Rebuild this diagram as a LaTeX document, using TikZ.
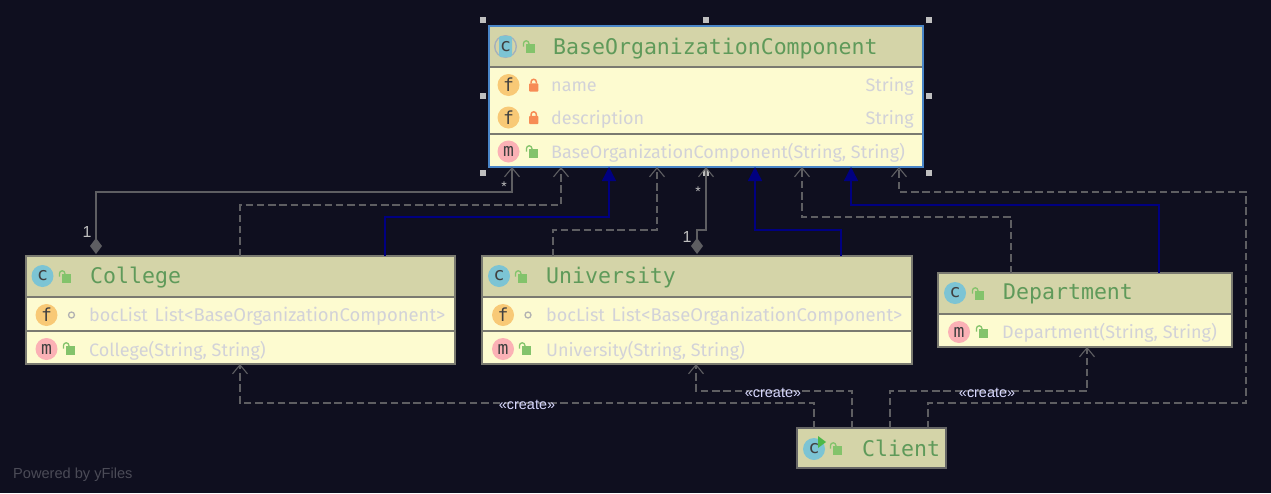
\documentclass[tikz,border=0pt]{standalone}
\usepackage{fontspec}
\setmainfont{Fira Sans}
\newfontfamily\titlefont{DejaVu Sans Mono}
\newfontfamily\labelfont{Liberation Sans}
\usetikzlibrary{arrows.meta,calc}
\definecolor{bg}{HTML}{0F0F1F}
\definecolor{headfill}{HTML}{D4D4A8}
\definecolor{bodyfill}{HTML}{FDFBD0}
\definecolor{boxline}{HTML}{7A7A70}
\definecolor{titlegreen}{HTML}{5F9A5A}
\definecolor{membertext}{HTML}{D2D2D8}
\definecolor{selblue}{HTML}{4A86C8}
\definecolor{conn}{HTML}{5E5E62}
\definecolor{inherit}{HTML}{000080}
\definecolor{iconc}{HTML}{7CC4D4}
\definecolor{iconf}{HTML}{F8C976}
\definecolor{iconm}{HTML}{FBB1B5}
\definecolor{lockgreen}{HTML}{83C36B}
\definecolor{lockorange}{HTML}{F78C55}
\definecolor{runGreen}{HTML}{4DB848}
\definecolor{ringgrey}{HTML}{A4B0BC}
\tikzset{
  boxbody/.style={draw=boxline,line width=1.4pt,fill=bodyfill,inner sep=0pt,outer sep=0pt},
  boxhead/.style={draw=boxline,line width=1.4pt,fill=headfill,inner sep=0pt,outer sep=0pt},
  sepline/.style={draw=boxline,line width=1.2pt},
  headline/.style={draw=boxline,line width=2pt},
  titletext/.style={font=\titlefont\fontsize{21.55}{24}\selectfont,text=titlegreen,anchor=west,inner sep=0pt,yshift=-1.8pt},
  membertxt/.style={font=\fontsize{18}{21}\selectfont,text=membertext,anchor=west,inner sep=0pt,yshift=-1pt},
  icontext/.style={circle,minimum size=22pt,inner sep=0pt,text=black!75,font=\titlefont\fontsize{18}{18}\selectfont},
  depline/.style={draw=conn,line width=1.3pt,dash pattern=on 7.5pt off 3.8pt,-{Straight Barb[length=9pt,width=15pt,line width=1.1pt]}},
  compline/.style={draw=conn,line width=1.3pt,{Diamond[length=16pt,width=12pt,fill=conn]}-{Straight Barb[length=9pt,width=15pt,line width=1.1pt]}},
  inhline/.style={draw=inherit,line width=1.4pt,-{Triangle[length=14pt,width=14pt,fill=inherit]}},
  createlabel/.style={font=\labelfont\fontsize{14.4}{16}\selectfont,text=white!85!blue,inner sep=0pt},
  multlabel/.style={font=\labelfont\fontsize{14}{16}\selectfont,text=white!75!black,inner sep=0pt},
  onelabel/.style={font=\labelfont\fontsize{16}{18}\selectfont,text=white!75!black,inner sep=0pt},
  handle/.style={fill=black!25,draw=none,minimum size=6pt,inner sep=0pt,rectangle},
}
% open padlock, closed padlock, field type text
\newcommand{\openlock}[2]{%
  \fill[lockgreen] (#1-4.3,#2-3) rectangle (#1+5,#2+5.5);
  \draw[lockgreen,line width=1.3pt] (#1-6.5,#2-0.3) -- (#1-6.5,#2-3.5) arc[start angle=180,end angle=360,radius=2.7] -- (#1-1.1,#2-3);
}
\newcommand{\closedlock}[2]{%
  \fill[lockorange,rounded corners=1pt] (#1-4,#2-1.7) rectangle (#1+5.4,#2+6.7);
  \draw[lockorange,line width=1.5pt] (#1-2,#2-1.7) -- (#1-2,#2-3) arc[start angle=180,end angle=360,radius=2.7] -- (#1+3.4,#2-1.7);
}
\newcommand{\boclist}{bocList\hspace{2pt} {\fontsize{18.45}{21}\selectfont List<BaseOrganizationComponent>}}
\begin{document}
\begin{tikzpicture}[x=1pt,y=-1pt]
\useasboundingbox (0,0) rectangle (1271,493);
\fill[bg] (0,0) rectangle (1271,493);

% ---------- Class boxes ----------
% BaseOrganizationComponent
\node[boxbody,draw=selblue,minimum width=434pt,minimum height=141pt] (base) at (706,96.5) {};
\node[boxhead,draw=none,minimum width=432.5pt,minimum height=40pt] (basehead) at (706,46.5) {};
\draw[headline] (base.west |- 0,67) -- (base.east |- 0,67);
\draw[sepline] (base.west |- 0,134) -- (base.east |- 0,134);
\draw[selblue,line width=1.6pt] (base.north west) rectangle (base.south east);

% College
\node[boxbody,minimum width=429pt,minimum height=108pt] (college) at (240.5,310) {};
\node[boxhead,minimum width=429pt,minimum height=41pt] (collegehead) at (240.5,276.5) {};
\draw[sepline] (college.west |- 0,331) -- (college.east |- 0,331);

% University
\node[boxbody,minimum width=430pt,minimum height=108pt] (univ) at (697,310) {};
\node[boxhead,minimum width=430pt,minimum height=41pt] (univhead) at (697,276.5) {};
\draw[sepline] (univ.west |- 0,331) -- (univ.east |- 0,331);

% Department
\node[boxbody,minimum width=294pt,minimum height=74pt] (dept) at (1085,310) {};
\node[boxhead,minimum width=294pt,minimum height=41pt] (depthead) at (1085,293.5) {};

% Client
\node[boxhead,draw=black!60,minimum width=149pt,minimum height=40pt] (client) at (871.5,448) {};

% ---------- Selection handles ----------
\node[handle] (h1) at (483,20) {};
\node[handle] (h2) at (706,20) {};
\node[handle] (h3) at (929,20) {};
\node[handle] (h4) at (483,96) {};
\node[handle] (h5) at (929,96) {};
\node[handle] (h6) at (483,173) {};
\node[handle] (h7) at (706,173) {};
\node[handle] (h8) at (929,173) {};

% ---------- Icons and texts ----------
% Base
\fill[ringgrey] (505.5,46.5) circle (11.5);
\fill[headfill] (505.5,46.5) circle (10);
\fill[iconc,rounded corners=2pt] (499,36) rectangle (512,57);
\node[icontext] (bi0) at (505.5,46.5) {c};
\openlock{530}{47}
\node[titletext] (bt) at (553,46.5) {BaseOrganizationComponent};
\node[icontext,fill=iconf] (bi1) at (508.5,85) {f};
\closedlock{533}{85}
\node[membertxt] (bm1) at (551,85.5) {name};
\node[membertxt,anchor=east] (bm1t) at (914,85.5) {String};
\node[icontext,fill=iconf] (bi2) at (508.5,117.5) {f};
\closedlock{533}{117.5}
\node[membertxt] (bm2) at (551,118) {description};
\node[membertxt,anchor=east] (bm2t) at (914,118) {String};
\node[icontext,fill=iconm] (bi3) at (508.5,151.5) {m};
\openlock{533}{152}
\node[membertxt] (bm3) at (551,152) {BaseOrganizationComponent(String, String)};

% College
\node[icontext,fill=iconc] (ci0) at (42.5,276) {c};
\openlock{66}{277}
\node[titletext] (ct) at (90,276) {College};
\node[icontext,fill=iconf] (ci1) at (46.5,315) {f};
\draw[black!30,line width=1.3pt] (71.5,315) circle (3);
\node[membertxt] (cm1) at (89,315.5) {\boclist};
\node[icontext,fill=iconm] (ci2) at (46.5,349) {m};
\openlock{70}{349}
\node[membertxt] (cm2) at (89,349.5) {College(String, String)};

% University
\node[icontext,fill=iconc] (ui0) at (499,276) {c};
\openlock{522}{277}
\node[titletext] (ut) at (546,276) {University};
\node[icontext,fill=iconf] (ui1) at (503,315) {f};
\draw[black!30,line width=1.3pt] (528,315) circle (3);
\node[membertxt] (um1) at (546,315.5) {\boclist};
\node[icontext,fill=iconm] (ui2) at (503,349) {m};
\openlock{526}{349}
\node[membertxt] (um2) at (546,349.5) {University(String, String)};

% Department
\node[icontext,fill=iconc] (di0) at (955,293) {c};
\openlock{979}{294}
\node[titletext] (dt) at (1003,292) {Department};
\node[icontext,fill=iconm] (di1) at (959,332) {m};
\openlock{983}{332}
\node[membertxt] (dm1) at (1002,332) {Department(String, String)};

% Client
\node[icontext,fill=iconc] (li0) at (814,449) {c};
\fill[runGreen] (818,436) -- (826,442) -- (818,448) -- cycle;
\openlock{837}{449}
\node[titletext] (lt) at (862,446.5) {Client};

% ---------- Connectors ----------
\coordinate (dcollege) at (96,254);
\coordinate (duniv) at (697,254);
\draw[compline] (dcollege) -- (96,192) -- (512,192) -- (512,0 |- base.south);
\draw[depline] (240,0 |- college.north) -- (240,205) -- (561,205) -- (561,0 |- base.south);
\draw[inhline] (385,0 |- college.north) -- (385,217) -- (609,217) -- (609,0 |- base.south);
\draw[depline] (553,0 |- univ.north) -- (553,230) -- (657,230) -- (657,0 |- base.south);
\draw[compline] (duniv) -- (697,230) -- (706,230) -- (706,0 |- base.south);
\draw[inhline] (841,0 |- univ.north) -- (841,230) -- (755,230) -- (755,0 |- base.south);
\draw[depline] (1011,0 |- dept.north) -- (1011,217) -- (802,217) -- (802,0 |- base.south);
\draw[inhline] (1159,0 |- dept.north) -- (1159,205) -- (851,205) -- (851,0 |- base.south);
\draw[depline] (928,0 |- client.north) -- (928,403) -- (1246,403) -- (1246,192) -- (899,192) -- (899,0 |- base.south);
\draw[depline] (814,0 |- client.north) -- (814,403) -- (240,403) -- (240,0 |- college.south);
\draw[depline] (852,0 |- client.north) -- (852,391) -- (696,391) -- (696,0 |- univ.south);
\draw[depline] (890,0 |- client.north) -- (890,391) -- (1087,391) -- (1087,0 |- dept.south);

% ---------- Labels ----------
\node[createlabel] (cl1) at (527,405) {«create»};
\node[createlabel] (cl2) at (773,393) {«create»};
\node[createlabel] (cl3) at (987,393) {«create»};
\node[multlabel] (m1) at (504,187) {*};
\node[multlabel] (m2) at (698,192) {*};
\node[onelabel] (m3) at (87,232) {1};
\node[onelabel] (m4) at (687,237) {1};
\node[anchor=west,inner sep=0pt,font=\labelfont\fontsize{14.6}{16}\selectfont,text=white!25!bg] (pw) at (13,475) {Powered by yFiles};
\end{tikzpicture}
\end{document}
